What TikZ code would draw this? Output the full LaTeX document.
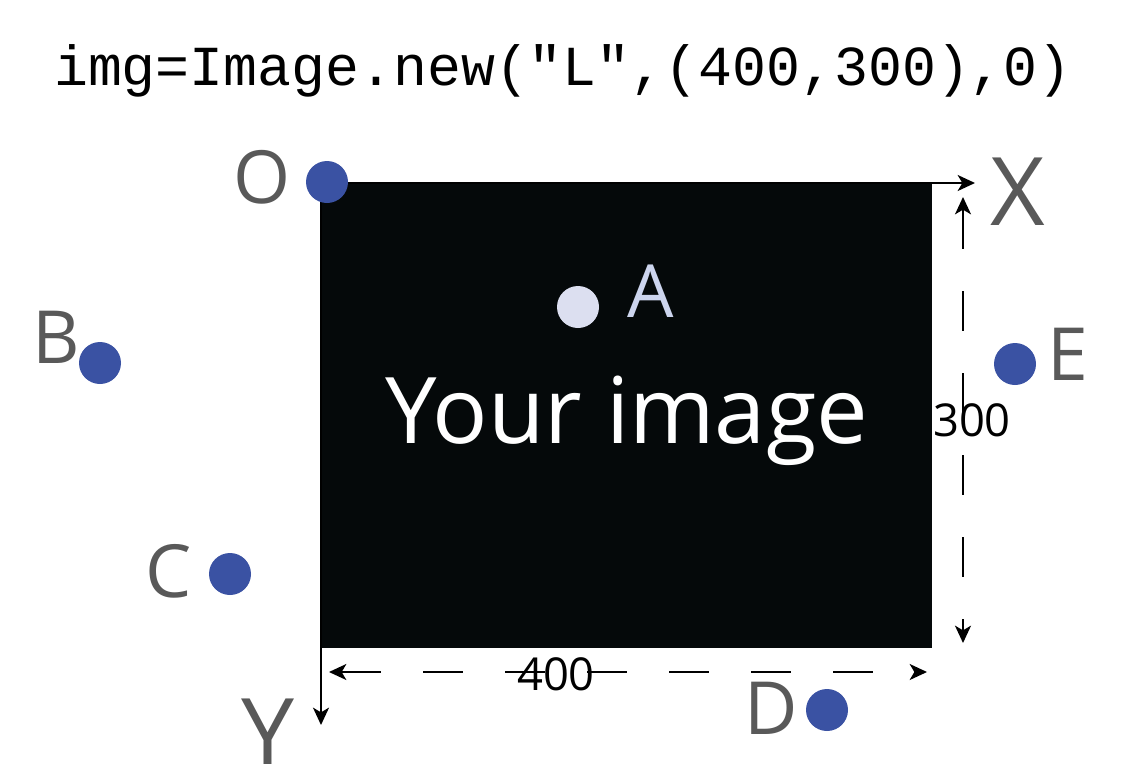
\documentclass[tikz,border=0pt]{standalone}
\usepackage{fontspec}
\setmainfont{Open Sans}
\newfontfamily\codefont{Liberation Mono}
\usepackage{tikz}
\usetikzlibrary{arrows.meta,positioning}
\usepackage{xcolor}
\definecolor{lblgray}{HTML}{595959}
\definecolor{ptblue}{HTML}{3A52A3}
\definecolor{imgblack}{HTML}{05090A}
\definecolor{ptlight}{HTML}{DCDFF0}
\definecolor{lbllight}{HTML}{CDD5EE}
\tikzset{
  ptdot/.style={circle,fill=ptblue,inner sep=0pt,minimum size=31.5pt},
  lbl/.style={text=lblgray,inner sep=0pt,anchor=base,font=\fontsize{55}{60}\selectfont},
  axlbl/.style={lbl,font=\fontsize{71}{76}\selectfont},
  dimlbl/.style={inner sep=0pt,anchor=base,font=\fontsize{34}{40}\selectfont},
  dimline/.style={<->,line width=1.5pt,dash pattern=on 30pt off 31.5pt}
}

\begin{document}
\begin{tikzpicture}[x=0.75pt,y=-0.75pt,>={Stealth[length=13pt,width=12pt,inset=3.5pt]}]
\useasboundingbox (0,0) rectangle (1132,764);
\node[anchor=base,inner sep=0pt,font=\codefont\fontsize{42.4}{50}\selectfont] (title) at (563,85) {img=Image.new("L",(400,300),0)};
% the image
\fill[imgblack] (321,183) rectangle (932,648);
\node[anchor=base,inner sep=0pt,text=white,font=\fontsize{69}{74}\selectfont] (yourimg) at (627,443) {Your image};
% axes
\coordinate (orig) at (321,183);
\coordinate (xend) at (975,183);
\coordinate (yend) at (321,725);
\draw[->,line width=1.5pt] (orig) -- (xend);
\draw[->,line width=1.5pt] (orig) -- (yend);
\node[axlbl] (xlbl) at (1018,225) {X};
\node[axlbl] (ylbl) at (268,766) {Y};
% size
\coordinate (w1) at (329,672);
\coordinate (w2) at (927,672);
\coordinate (h1) at (963,197);
\coordinate (h2) at (963,643);
\draw[dimline] (w1) -- (w2);
\draw[dimline] (h1) -- (h2);
\node[dimlbl] (wlbl) at (556,690) {400};
\node[dimlbl] (hlbl) at (972,436) {300};
% points
\node[ptdot] (o) at (327,182) {};
\node[lbl] (olbl) at (262,203) {O};
\node[ptdot,fill=ptlight] (a) at (578,307) {};
\node[lbl,text=lbllight] (albl) at (651,317) {A};
\node[ptdot] (b) at (100,363) {};
\node[lbl] (blbl) at (56,363) {B};
\node[ptdot] (c) at (230,574) {};
\node[lbl] (clbl) at (169,597) {C};
\node[ptdot] (d) at (827,710) {};
\node[lbl] (dlbl) at (771,734) {D};
\node[ptdot] (e) at (1015,364) {};
\node[lbl] (elbl) at (1068,380) {E};
\end{tikzpicture}
\end{document}
